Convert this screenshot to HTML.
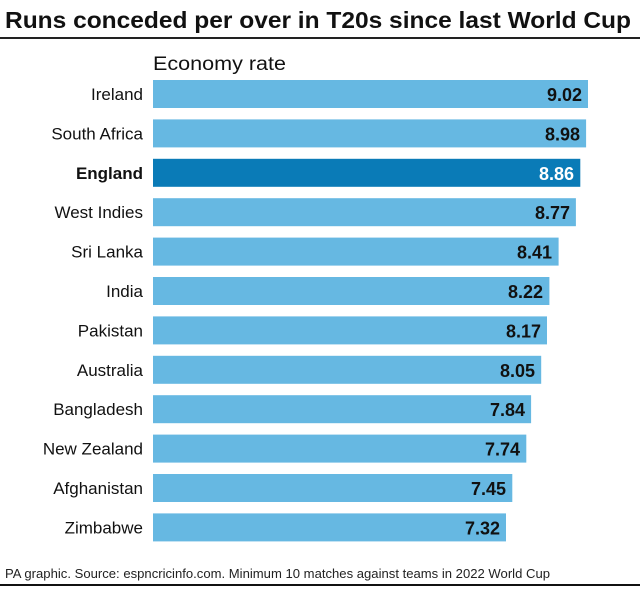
<!DOCTYPE html>
<html><head><style>body{margin:0;background:#fff}</style></head><body>
<svg width="640" height="588" xmlns="http://www.w3.org/2000/svg" font-family="Liberation Sans, sans-serif">
<text x="5" y="28" font-size="23" font-weight="bold" textLength="626" lengthAdjust="spacingAndGlyphs" fill="#111">Runs conceded per over in T20s since last World Cup</text>
<rect x="0" y="37" width="640" height="2" fill="#222"/>
<text x="153" y="70" font-size="19" fill="#111" textLength="133" lengthAdjust="spacingAndGlyphs">Economy rate</text>
<g fill="#66b8e2">
<rect x="153" y="80" width="435" height="28"/>
<rect x="153" y="119.4" width="433.1" height="28"/>
<rect x="153" y="158.8" width="427.3" height="28" fill="#0a7bb7"/>
<rect x="153" y="198.2" width="422.9" height="28"/>
<rect x="153" y="237.6" width="405.6" height="28"/>
<rect x="153" y="277" width="396.4" height="28"/>
<rect x="153" y="316.4" width="394.0" height="28"/>
<rect x="153" y="355.8" width="388.2" height="28"/>
<rect x="153" y="395.2" width="378.1" height="28"/>
<rect x="153" y="434.6" width="373.3" height="28"/>
<rect x="153" y="474" width="359.3" height="28"/>
<rect x="153" y="513.4" width="353.0" height="28"/>
</g>
<g font-size="17" fill="#111" text-anchor="end">
<text x="143" y="100">Ireland</text>
<text x="143" y="139.4">South Africa</text>
<text x="143" y="178.8" font-weight="bold">England</text>
<text x="143" y="218.2">West Indies</text>
<text x="143" y="257.6">Sri Lanka</text>
<text x="143" y="297">India</text>
<text x="143" y="336.4">Pakistan</text>
<text x="143" y="375.8">Australia</text>
<text x="143" y="415.2">Bangladesh</text>
<text x="143" y="454.6">New Zealand</text>
<text x="143" y="494">Afghanistan</text>
<text x="143" y="533.4">Zimbabwe</text>
</g>
<g font-size="18" font-weight="bold" fill="#111" text-anchor="end">
<text x="582" y="101">9.02</text>
<text x="580" y="140.4">8.98</text>
<text x="574" y="179.8" fill="#fff">8.86</text>
<text x="570" y="219.2">8.77</text>
<text x="552" y="258.6">8.41</text>
<text x="543" y="298">8.22</text>
<text x="541" y="337.4">8.17</text>
<text x="535" y="376.8">8.05</text>
<text x="525" y="416.2">7.84</text>
<text x="520" y="455.6">7.74</text>
<text x="506" y="495">7.45</text>
<text x="500" y="534.4">7.32</text>
</g>
<text x="5" y="578" font-size="13" fill="#222" textLength="545" lengthAdjust="spacingAndGlyphs">PA graphic. Source: espncricinfo.com. Minimum 10 matches against teams in 2022 World Cup</text>
<rect x="0" y="584" width="640" height="2" fill="#111"/>
</svg>
</body></html>
